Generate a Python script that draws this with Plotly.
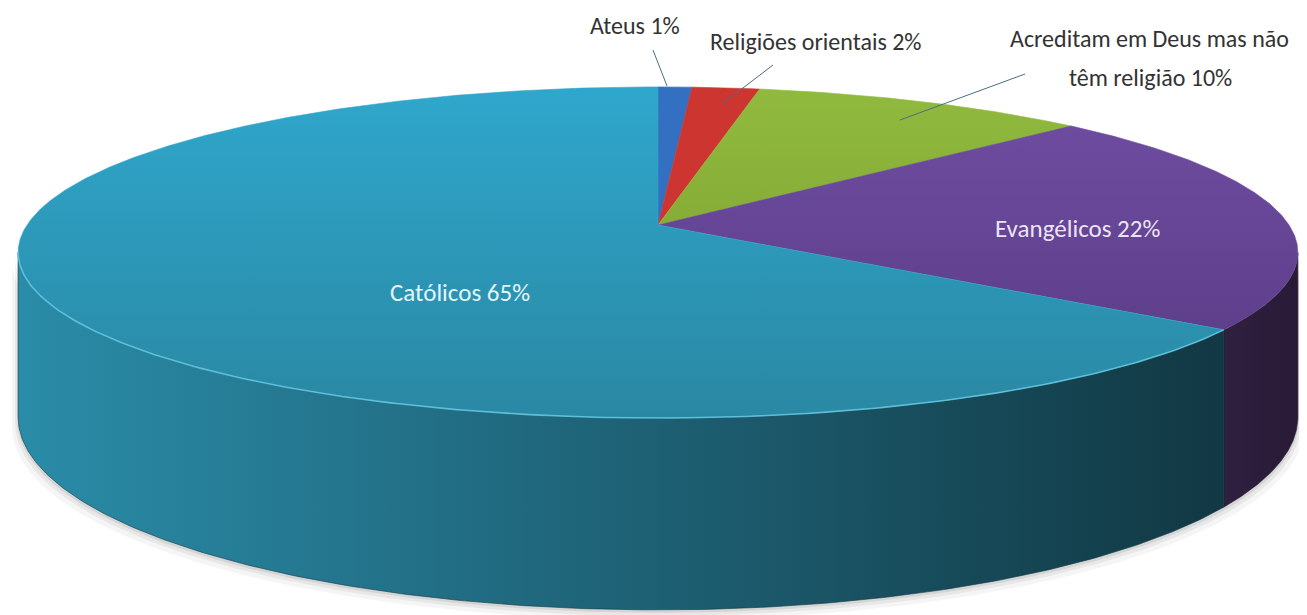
import numpy as np
import plotly.graph_objects as go

# ---- data ----
categories = ["Ateus", "Religiões orientais", "Acreditam em Deus mas não têm religião",
              "Evangélicos", "Católicos"]
values = [1, 2, 10, 22, 65]
label_lines = [["Ateus 1%"], ["Religiões orientais 2%"],
               ["Acreditam em Deus mas não", "têm religião 10%"],
               ["Evangélicos 22%"], ["Católicos 65%"]]

# ---- styles ----
top_colors = ["#3470c2", "#cc3530", "#8cb53b", "#6a4a9a", "#2b9cc0"]
top_grad = {4: ["#2fa7cc", "#2a88a3"], 3: ["#6d4c9f", "#5e3f8b"], 2: ["#90ba3e", "#86ad37"]}
side_grad = {4: [[0, "#2a8ca8"], [0.5, "#1e6276"], [1, "#113843"]],
             3: [[0, "#2e203f"], [1, "#291b36"]]}

W, H = 1307, 615
OFF = 8  # default page body margin
CX, CY, A, B, K, D = 658, 225, 631, 161, 0.166, 160


def proj(phi, r=1.0, depth=0.0):
    u = r * np.sin(phi)
    v = r * np.cos(phi)
    w = 1 + K * v
    return CX + A * u / w, CY - B * v / w + depth / w


total = float(sum(values))
cum = np.concatenate([[0], np.cumsum(values)]) / total
bounds = cum * 2 * np.pi
phi_vis0 = np.arccos(-K)
phi_vis1 = 2 * np.pi - phi_vis0

fig = go.Figure()

# soft shadow
for (dx, dy, op) in [(6, 10, 0.05), (3, 6, 0.07), (1, 3, 0.1)]:
    ph = np.linspace(phi_vis0, phi_vis1, 200)
    xs, ys = proj(ph, 1.0, D)
    xt, yt = proj(ph[::-1], 1.0, 0)
    sx = np.concatenate([xs, xt])
    sy = np.concatenate([ys, yt])
    sx = CX + (sx - CX) * (1 + dx / 640.0)
    sy = sy + dy
    fig.add_trace(go.Scatter(x=sx, y=sy, mode="lines", fill="toself",
                             fillcolor=f"rgba(60,60,60,{op})", line=dict(width=0),
                             hoverinfo="skip", showlegend=False))

# side faces
for i in range(len(values)):
    a0, a1 = max(bounds[i], phi_vis0), min(bounds[i + 1], phi_vis1)
    if a1 <= a0:
        continue
    ph = np.linspace(a0, a1, 200)
    xt, yt = proj(ph, 1.0, 0)
    xb, yb = proj(ph[::-1], 1.0, D)
    xs = np.concatenate([xt, xb, xt[:1]])
    ys = np.concatenate([yt, yb, yt[:1]])
    cs = side_grad.get(i, [[0, top_colors[i]], [1, top_colors[i]]])
    fig.add_trace(go.Scatter(x=xs, y=ys, mode="lines", fill="toself",
                             fillgradient=dict(type="horizontal", colorscale=cs,
                                               start=float(xs.min()), stop=float(xs.max())),
                             line=dict(width=0.6, color=cs[-1][1]),
                             hoverinfo="skip", showlegend=False))

# top faces
for i in range(len(values)):
    n = max(20, int(values[i] * 8))
    ph = np.linspace(bounds[i], bounds[i + 1], n)
    xa, ya = proj(ph)
    xs = np.concatenate([[CX], xa, [CX]])
    ys = np.concatenate([[CY], ya, [CY]])
    if i in top_grad:
        c0, c1 = top_grad[i]
        fg = dict(type="vertical", colorscale=[[0, c0], [1, c1]],
                  start=float(ys.min()), stop=float(ys.max()))
        fig.add_trace(go.Scatter(x=xs, y=ys, mode="lines", fill="toself", fillgradient=fg,
                                 line=dict(width=0.6, color=c0),
                                 hoverinfo="skip", showlegend=False, name=categories[i]))
    else:
        fig.add_trace(go.Scatter(x=xs, y=ys, mode="lines", fill="toself",
                                 fillcolor=top_colors[i],
                                 line=dict(width=0.6, color=top_colors[i]),
                                 hoverinfo="skip", showlegend=False, name=categories[i]))

# rim highlight
ph = np.linspace(bounds[4], phi_vis1, 200)
xr, yr = proj(ph)
fig.add_trace(go.Scatter(x=xr, y=yr, mode="lines",
                         line=dict(width=1.6, color="rgba(110,205,230,0.75)"),
                         hoverinfo="skip", showlegend=False))

FAM = "Calibri, Carlito, Liberation Sans Narrow, DejaVu Sans Condensed, sans-serif"
font_out = dict(family=FAM, size=24, color="#333333")
font_in = dict(family=FAM, size=25)

ann_pos = [[(635, 25)], [(816, 41)], [(1149, 38), (1150, 77)], [(1077, 228)], [(460, 292)]]
for i, lines in enumerate(label_lines):
    if i < 3:
        f = font_out
    elif i == 3:
        f = dict(font_in, color="#ece4f4")
    else:
        f = dict(font_in, color="#e2f6fb")
    for txt, (x, y) in zip(lines, ann_pos[i]):
        fig.add_annotation(x=x, y=y, text=txt, showarrow=False, font=f, align="center",
                           xref="x", yref="y")

leaders = [((653, 50), (667, 86)), ((773, 65), (722, 104)), ((1025, 74), (900, 120))]
for (x0, y0), (x1, y1) in leaders:
    fig.add_shape(type="line", x0=x0, y0=y0, x1=x1, y1=y1, xref="x", yref="y",
                  line=dict(color="#4a6f82", width=1))

fig.update_layout(width=W, height=H, margin=dict(l=0, r=0, t=0, b=0),
                  paper_bgcolor="white", plot_bgcolor="white", showlegend=False)
fig.update_xaxes(range=[OFF, W + OFF], visible=False, fixedrange=True)
fig.update_yaxes(range=[H + OFF, OFF], visible=False, fixedrange=True)

fig.write_html("out.html")
